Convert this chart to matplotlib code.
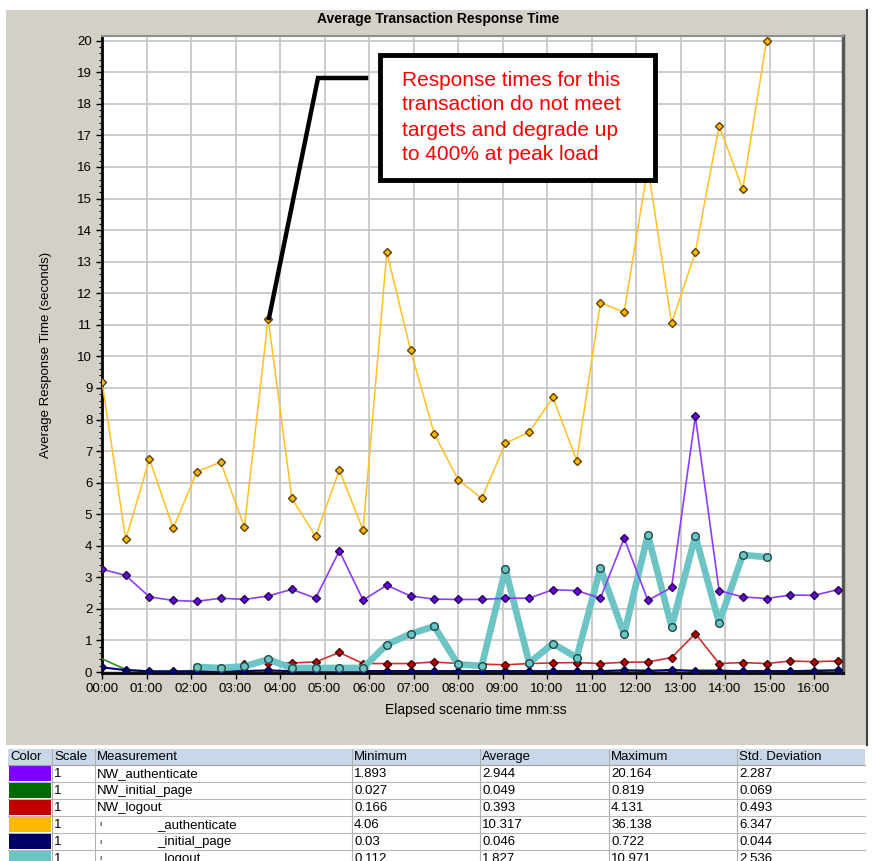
"""Average Transaction Response Time chart with the measurement table below."""

import matplotlib

matplotlib.use("Agg")
import matplotlib.pyplot as plt
from matplotlib.patches import Rectangle
from matplotlib.lines import Line2D
from matplotlib.ticker import MultipleLocator, FuncFormatter

W, H = 872, 861
STEP_MIN = 32 / 60  # one sample every 32 seconds

# values (seconds)
authenticate = [9.2, 4.2, 6.75, 4.55, 6.35, 6.65, 4.6, 11.2, 5.5, 4.3, 6.4, 4.5, 13.3, 10.2,
                7.55, 6.1, 5.5, 7.25, 7.6, 8.7, 6.7, 11.7, 11.4, 16.0, 11.05, 13.3, 17.3,
                15.3, 20.0]
nw_authenticate = [3.26, 3.06, 2.38, 2.27, 2.24, 2.34, 2.30, 2.41, 2.62, 2.34, 3.84, 2.28,
                   2.75, 2.41, 2.31, 2.30, 2.30, 2.34, 2.34, 2.61, 2.58, 2.34, 4.24, 2.27,
                   2.68, 8.1, 2.58, 2.38, 2.33, 2.44, 2.43, 2.61]
logout_start = 4
logout = [0.16, 0.13, 0.18, 0.40, 0.13, 0.13, 0.13, 0.13, 0.87, 1.21, 1.45, 0.24, 0.20,
          3.26, 0.29, 0.90, 0.46, 3.29, 1.20, 4.35, 1.43, 4.32, 1.56, 3.71, 3.64]
nw_logout_start = 6
nw_logout = [0.27, 0.30, 0.29, 0.32, 0.62, 0.27, 0.27, 0.27, 0.32, 0.27, 0.25, 0.23, 0.27,
             0.29, 0.30, 0.27, 0.31, 0.32, 0.46, 1.22, 0.27, 0.30, 0.27, 0.35, 0.33, 0.35]
initial_page = [0.15, 0.06, 0.02, 0.02, 0.02, 0.03, 0.03, 0.05, 0.03, 0.03, 0.03, 0.03,
                0.03, 0.03, 0.03, 0.03, 0.03, 0.03, 0.03, 0.03, 0.03, 0.03, 0.05, 0.03,
                0.07, 0.03, 0.03, 0.03, 0.03, 0.03, 0.03, 0.05]
nw_initial_page = [0.42, 0.08, 0.03, 0.03, 0.05, 0.05, 0.04, 0.05, 0.03, 0.03, 0.03, 0.03,
                   0.03, 0.03, 0.03, 0.03, 0.03, 0.03, 0.03, 0.03, 0.03, 0.03, 0.06, 0.06,
                   0.03, 0.06, 0.06, 0.03, 0.03, 0.03, 0.06, 0.06]

# legend table
table_cols = ["Color", "Scale", "Measurement", "Minimum", "Average", "Maximum", "Std. Deviation"]
table_names = ["NW_authenticate", "NW_initial_page", "NW_logout",
               "_authenticate", "_initial_page", "_logout"]
table_colors = ["#7f00ff", "#006a00", "#c00000", "#ffb800", "#000066", "#6cc4c4"]
table_min = ["1.893", "0.027", "0.166", "4.06", "0.03", "0.112"]
table_avg = ["2.944", "0.049", "0.393", "10.317", "0.046", "1.827"]
table_max = ["20.164", "0.819", "4.131", "36.138", "0.722", "10.971"]
table_std = ["2.287", "0.069", "0.493", "6.347", "0.044", "2.536"]

note_lines = ["Response times for this", "transaction do not meet",
              "targets and degrade up", "to 400% at peak load"]

FONT = ["Liberation Sans", "DejaVu Sans"]


def fx(x):
    return x / W


def fy(y):
    return 1 - y / H


def times(n, start=0):
    return [(start + i) * STEP_MIN for i in range(n)]


def mmss(value, _pos):
    return f"{int(round(value)):02d}:00"


def draw_chart(fig):
    ax = fig.add_axes([fx(102), fy(673), fx(843) - fx(102), fy(36) - fy(673)])
    ax.set_facecolor("white")
    ax.set_xlim(0, (843 - 102) / 44.5)
    ax.set_ylim(-0.03, 20.15)

    ax.xaxis.set_major_locator(MultipleLocator(1))
    ax.xaxis.set_major_formatter(FuncFormatter(mmss))
    ax.yaxis.set_major_locator(MultipleLocator(1))
    ax.yaxis.set_minor_locator(MultipleLocator(0.2))
    ax.grid(True, which="major", color="#c4c4c4", linewidth=1.2)
    ax.set_axisbelow(True)
    ax.tick_params(axis="both", which="major", length=4, width=1, labelsize=9.5, pad=3)
    ax.tick_params(axis="y", which="minor", length=2, width=0.8)
    for label in ax.get_xticklabels() + ax.get_yticklabels():
        label.set_family(FONT)

    for side in ("left", "bottom"):
        ax.spines[side].set_linewidth(2)
        ax.spines[side].set_color("black")
    ax.spines["top"].set_color("#909090")
    ax.spines["top"].set_linewidth(1.5)
    ax.spines["right"].set_color("#585858")
    ax.spines["right"].set_linewidth(2.5)

    ax.plot(times(len(nw_initial_page)), nw_initial_page, color="#2e8b2e", lw=1.2, zorder=3)
    ax.plot(times(len(initial_page)), initial_page, color="#000080", lw=1.5, marker="D",
            ms=4.5, mfc="#000080", mec="#000040", zorder=4)
    ax.plot(times(len(nw_logout), nw_logout_start), nw_logout, color="#d03030", lw=1.2,
            marker="D", ms=4.5, mfc="#c00000", mec="#400000", zorder=5)
    ax.plot(times(len(logout), logout_start), logout, color="#6cc4c4", lw=4.8, marker="o",
            ms=5.5, mfc="#6cc4c4", mec="#204848", mew=1, zorder=6)
    ax.plot(times(len(nw_authenticate)), nw_authenticate, color="#8c3cff", lw=1.2,
            marker="D", ms=4.5, mfc="#6a00e0", mec="#200050", zorder=7)
    ax.plot(times(len(authenticate)), authenticate, color="#ffc020", lw=1.1, marker="D",
            ms=4.5, mfc="#ffb800", mec="#604000", zorder=8)

    ax.set_xlabel("Elapsed scenario time mm:ss", family=FONT, fontsize=10)
    ax.xaxis.set_label_coords((476 - 102) / (843 - 102), -0.047)
    ax.set_ylabel("Average Response Time (seconds)", family=FONT, fontsize=9.5)
    ax.yaxis.set_label_coords((52 - 102) / (843 - 102), 0.5)
    return ax


def draw_note(fig):
    fig.add_artist(Line2D([fx(366), fx(318), fx(269)], [fy(78), fy(78), fy(318)],
                          color="black", lw=3.2, solid_joinstyle="miter", zorder=20))
    fig.add_artist(Rectangle((fx(380), fy(180)), fx(655) - fx(380), fy(55) - fy(180),
                             facecolor="white", edgecolor="black", lw=3.5, zorder=21))
    for i, line in enumerate(note_lines):
        fig.text(fx(402), fy(80 + 25 * i), line, color="#ff0000", family=FONT,
                 fontsize=15, ha="left", va="center", zorder=22)


def draw_table(fig):
    col_x = [8, 52, 95, 352, 480, 609, 737, 865]
    top, head_h, row_h = 749, 16, 17
    fig.add_artist(Rectangle((fx(8), fy(H)), fx(865) - fx(8), fy(top) - fy(H),
                             facecolor="white", edgecolor="none", zorder=1))
    fig.add_artist(Rectangle((fx(8), fy(top + head_h)), fx(865) - fx(8), fy(top) - fy(top + head_h),
                             facecolor="#c9d8e8", edgecolor="none", zorder=2))
    for j, name in enumerate(table_cols):
        fig.text(fx(col_x[j] + 2), fy(top + head_h / 2), name, family=FONT, fontsize=9.5,
                 va="center", ha="left", zorder=4)

    rows = zip(table_names, table_colors, table_min, table_avg, table_max, table_std)
    for i, (name, color, lo, avg, hi, std) in enumerate(rows):
        y0 = top + head_h + i * row_h
        yc = fy(y0 + row_h / 2 + 0.5)
        fig.add_artist(Rectangle((fx(9), fy(y0 + row_h - 1)), fx(51) - fx(9),
                                 fy(y0 + 1) - fy(y0 + row_h - 1), facecolor=color,
                                 edgecolor="none", zorder=3))
        fig.text(fx(col_x[1] + 2), yc, "1", family=FONT, fontsize=9.5, va="center", zorder=4)
        if name.startswith("NW"):
            fig.text(fx(col_x[2] + 2), yc, name, family=FONT, fontsize=9.5, va="center", zorder=4)
        else:
            fig.text(fx(col_x[2] + 4), yc, "ı", family=FONT, fontsize=6, va="center", zorder=4)
            fig.text(fx(157), yc, name, family=FONT, fontsize=9.5, va="center", zorder=4)
        for j, value in enumerate([lo, avg, hi, std]):
            fig.text(fx(col_x[3 + j] + 2), yc, value, family=FONT, fontsize=9.5,
                     va="center", zorder=4)
        fig.add_artist(Line2D([fx(8), fx(865)], [fy(y0 + row_h), fy(y0 + row_h)],
                              color="#b8b8b8", lw=0.8, zorder=3))

    fig.add_artist(Line2D([fx(8), fx(865)], [fy(top + head_h), fy(top + head_h)],
                          color="#a0a0a0", lw=0.8, zorder=3))
    for x in col_x[1:-1]:
        fig.add_artist(Line2D([fx(x), fx(x)], [fy(top), fy(H)], color="#b0b0b0",
                              lw=0.8, zorder=3))


def main():
    fig = plt.figure(figsize=(W / 100, H / 100), dpi=100, facecolor="white")
    fig.add_artist(Rectangle((fx(6), fy(745)), fx(867) - fx(6), fy(10) - fy(745),
                             facecolor="#d4d0c8", edgecolor="none", zorder=0))
    fig.add_artist(Line2D([fx(867), fx(867)], [fy(10), fy(745)], color="#404040",
                          lw=1.5, zorder=1))
    fig.text(fx(438), fy(19), "Average Transaction Response Time",
             family=["Liberation Sans Narrow", "Liberation Sans", "DejaVu Sans"],
             fontsize=10, fontweight="bold", ha="center", va="center")

    draw_chart(fig)
    draw_note(fig)
    draw_table(fig)
    fig.savefig("out.png", dpi=100, facecolor=fig.get_facecolor())


if __name__ == "__main__":
    main()
